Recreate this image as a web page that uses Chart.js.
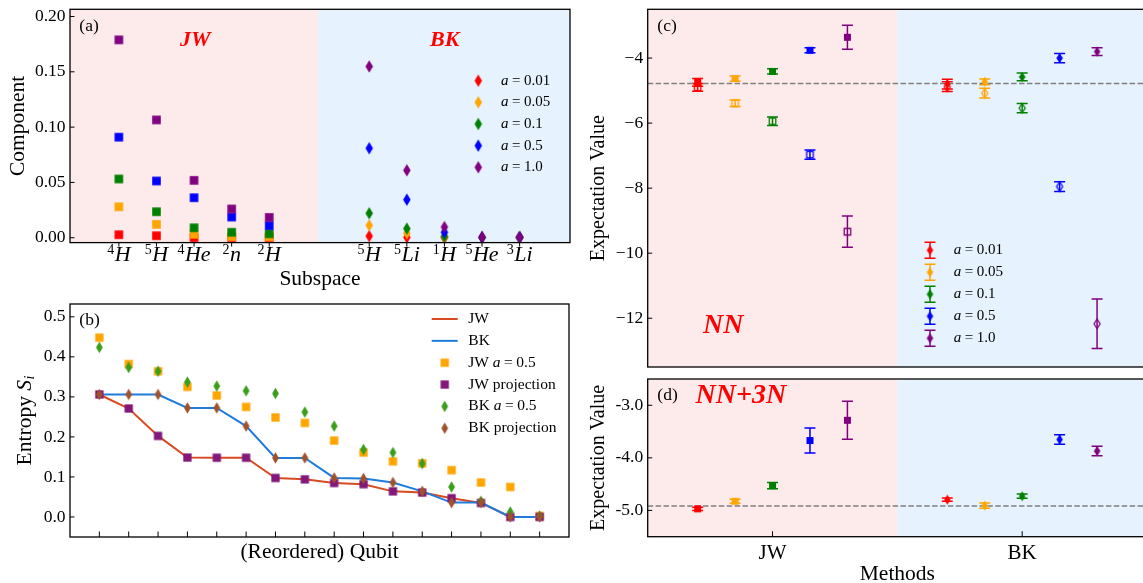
<!DOCTYPE html>
<html>
<head>
<meta charset="utf-8">
<title>Subspace components, entropies and expectation values</title>
<script src="https://cdn.jsdelivr.net/npm/chart.js@4.4.1/dist/chart.umd.min.js"></script>
<style>
  html, body { margin:0; padding:0; background:#fff; overflow:hidden; }
  #page { position:relative; width:1143px; height:583px; overflow:hidden; background:#fff; }
  #page canvas { position:absolute; }
</style>
</head>
<body>
<div id="page">
  <canvas id="chartA" width="580" height="292" style="left:0;top:0"></canvas>
  <canvas id="chartB" width="580" height="291" style="left:0;top:292px"></canvas>
  <canvas id="chartC" width="580" height="373" style="left:580px;top:0"></canvas>
  <canvas id="chartD" width="580" height="210" style="left:580px;top:373px"></canvas>
</div>
<script>
// ===================== DATA =====================
const aLevels = ['0.01', '0.05', '0.1', '0.5', '1.0'];

// ---- panel (a): subspace components ----
const jwSubspaces = ['4H', '5H', '4He', '2n', '2H'];
const bkSubspaces = ['5H', '5Li', '1H', '5He', '3Li'];
const jwCompA001 = [0.0027, 0.0018, 0.0000, 0.0000, 0.0000];
const jwCompA005 = [0.0280, 0.0121, 0.0030, 0.0010, 0.0008];
const jwCompA01  = [0.0531, 0.0235, 0.0090, 0.0049, 0.0036];
const jwCompA05  = [0.0909, 0.0513, 0.0362, 0.0187, 0.0109];
const jwCompA10  = [0.1789, 0.1065, 0.0519, 0.0260, 0.0184];
const bkCompA001 = [0.0015, 0.0003, 0.0000, 0.0000, 0.0000];
const bkCompA005 = [0.0112, 0.0040, 0.0008, 0.0002, 0.0002];
const bkCompA01  = [0.0221, 0.0082, 0.0012, 0.0003, 0.0003];
const bkCompA05  = [0.0809, 0.0344, 0.0049, 0.0004, 0.0004];
const bkCompA10  = [0.1548, 0.0610, 0.0097, 0.0006, 0.0006];
const componentTicks = [0, 0.05, 0.10, 0.15, 0.20];

// ---- panel (b): single-qubit entropy ----
const jwProjection = [0.306, 0.271, 0.2025, 0.1485, 0.148, 0.148, 0.0975, 0.094, 0.085, 0.082, 0.064, 0.061, 0.047, 0.035, 0.0, 0.0];
const bkProjection = [0.306, 0.306, 0.306, 0.2725, 0.2725, 0.227, 0.1475, 0.1475, 0.0975, 0.096, 0.086, 0.064, 0.036, 0.036, 0.0, 0.0];
const jwA05 = [0.448, 0.382, 0.364, 0.325, 0.3035, 0.275, 0.2485, 0.235, 0.191, 0.161, 0.139, 0.134, 0.117, 0.086, 0.075, 0.0025];
const bkA05 = [0.4235, 0.3735, 0.364, 0.337, 0.327, 0.315, 0.3085, 0.262, 0.227, 0.1685, 0.161, 0.1335, 0.075, 0.039, 0.0125, 0.0025];
const entropyTicks = [0, 0.1, 0.2, 0.3, 0.4, 0.5];
const bLegendLabels = ['JW', 'BK', 'JW a=0.5', 'JW projection', 'BK a=0.5', 'BK projection'];

// ---- panel (c): NN expectation values ----
const methods = ['JW', 'BK'];
const nnJwFilled    = [-4.75, -4.63, -4.41, -3.76, -3.36];
const nnJwFilledErr = [0.12, 0.08, 0.08, 0.08, 0.37];
const nnJwOpen      = [-4.90, -5.39, -5.94, -6.97, -9.34];
const nnJwOpenErr   = [0.12, 0.10, 0.13, 0.14, 0.48];
const nnBkFilled    = [-4.80, -4.73, -4.58, -4.00, -3.80];
const nnBkFilledErr = [0.15, 0.09, 0.12, 0.14, 0.12];
const nnBkOpen      = [-4.88, -5.08, -5.54, -7.95, -12.17];
const nnBkOpenErr   = [0.15, 0.15, 0.14, 0.15, 0.76];
const nnReference   = -4.78;
const nnTicks = [-12, -10, -8, -6, -4];

// ---- panel (d): NN+3N expectation values ----
const n3JwFilled = [-4.97, -4.826, -4.53, -3.67, -3.285];
const n3JwErr    = [0.03, 0.04, 0.06, 0.24, 0.36];
const n3BkFilled = [-4.795, -4.91, -4.73, -3.65, -3.87];
const n3BkErr    = [0.03, 0.05, 0.04, 0.09, 0.09];
const n3Reference = -4.914;
const n3Ticks = [-5, -4, -3];

// ===================== STYLE / HELPERS =====================
const SERIF = '"Liberation Serif", "Times New Roman", serif';
Chart.defaults.font.family = SERIF;
Chart.defaults.color = '#000';
const PINK = 'rgb(253,235,235)';
const LBLUE = 'rgb(230,242,253)';
const levelColors = ['#ff0000', '#ffa500', '#008000', '#0000ff', '#800080'];
const levelOffsets = [-0.3, -0.15, 0, 0.15, 0.3];
const CAP = 5.5;

function f(size, style) { return (style ? style + ' ' : '') + size + 'px ' + SERIF; }

function markerImg(shape, color, w, h, filled, lw) {
  lw = lw || 1.2;
  const pad = 2;
  const c = document.createElement('canvas');
  c.width = Math.ceil(w + 2 * pad); c.height = Math.ceil(h + 2 * pad);
  const g = c.getContext('2d');
  const cx = c.width / 2, cy = c.height / 2;
  g.beginPath();
  if (shape === 'square') g.rect(cx - w / 2, cy - h / 2, w, h);
  else { g.moveTo(cx, cy - h / 2); g.lineTo(cx + w / 2, cy); g.lineTo(cx, cy + h / 2); g.lineTo(cx - w / 2, cy); g.closePath(); }
  if (filled) { g.fillStyle = color; g.fill(); }
  else { g.strokeStyle = color; g.lineWidth = lw; g.stroke(); }
  return c;
}

function zeroPad(s) { s.paddingTop = 0; s.paddingBottom = 0; s.paddingLeft = 0; s.paddingRight = 0; }
function fixedTicks(values) { return s => { s.ticks = values.map(v => ({ value: v })); }; }
function pts(xs, ys) { return ys.map((y, i) => ({ x: xs[i], y: y })); }

function drawRuns(ctx, x, y, runs, align) {
  let total = 0;
  runs.forEach(r => { ctx.font = r.font; r.w = ctx.measureText(r.text).width; total += (r.l || 0) + r.w + (r.r || 0); });
  let cx = align === 'center' ? x - total / 2 : x;
  ctx.textAlign = 'left';
  runs.forEach(r => { ctx.font = r.font; cx += (r.l || 0); ctx.fillText(r.text, cx, y + (r.dy || 0)); cx += r.w + (r.r || 0); });
}

// label like "JW a=0.5" -> prefix + italic a + '=' + value
function mathRuns(label, size) {
  const m = label.match(/^(.*?)a=(.*)$/);
  if (!m) return [{ text: label, font: f(size) }];
  const runs = [];
  if (m[1]) runs.push({ text: m[1], font: f(size) });
  runs.push({ text: 'a', font: f(size, 'italic') });
  runs.push({ text: '=', font: f(size), l: 3.5, r: 3.5 });
  runs.push({ text: m[2], font: f(size) });
  return runs;
}

function drawErrorBars(chart) {
  const { ctx, scales: { y } } = chart;
  chart.data.datasets.forEach((ds, i) => {
    if (!ds.errors) return;
    const meta = chart.getDatasetMeta(i);
    ctx.save();
    ctx.strokeStyle = ds.errColor; ctx.lineWidth = 1.5;
    meta.data.forEach((el, j) => {
      const v = ds.data[j].y, e = ds.errors[j];
      const top = y.getPixelForValue(v + e), bot = y.getPixelForValue(v - e);
      ctx.beginPath();
      ctx.moveTo(el.x, top); ctx.lineTo(el.x, bot);
      ctx.moveTo(el.x - CAP, top); ctx.lineTo(el.x + CAP, top);
      ctx.moveTo(el.x - CAP, bot); ctx.lineTo(el.x + CAP, bot);
      ctx.stroke();
    });
    ctx.restore();
  });
}

function drawFrame(chart, o) {
  const { ctx, chartArea: a, scales: { x, y } } = chart;
  ctx.save();
  ctx.strokeStyle = '#000'; ctx.lineWidth = 1;
  ctx.beginPath();
  y.ticks.forEach(t => { const py = y.getPixelForValue(t.value); ctx.moveTo(a.left, py); ctx.lineTo(a.left + o.yTick, py); });
  if (o.xTick) x.ticks.forEach(t => {
    const px = x.getPixelForValue(t.value);
    ctx.moveTo(px, a.bottom); ctx.lineTo(px, o.xOut ? a.bottom + o.xTick : a.bottom - o.xTick);
  });
  ctx.stroke();
  ctx.lineWidth = 1.3;
  ctx.strokeRect(a.left, a.top, a.right - a.left, a.bottom - a.top);
  ctx.restore();
}

function panelPlugin(opts) {
  return {
    id: 'panel',
    beforeDatasetsDraw(chart) {
      const { ctx, chartArea: a, scales: { x } } = chart;
      ctx.save();
      (opts.bands || []).forEach(b => {
        const x0 = Math.max(a.left, x.getPixelForValue(b.from));
        const x1 = Math.min(a.right, x.getPixelForValue(b.to));
        ctx.fillStyle = b.color; ctx.fillRect(x0, a.top, x1 - x0, a.bottom - a.top);
      });
      ctx.restore();
      drawErrorBars(chart);
    },
    afterDraw(chart) {
      drawFrame(chart, opts);
      const ctx = chart.ctx;
      ctx.save();
      ctx.fillStyle = '#000';
      if (opts.draw) opts.draw(chart, ctx);
      ctx.restore();
    }
  };
}

function baseScale(extra) {
  return Object.assign({ type: 'linear', grid: { display: false, drawTicks: false }, border: { display: false } }, extra);
}
const commonOpts = { responsive: false, animation: false, events: [] };
const noPlugins = { legend: { display: false }, tooltip: { enabled: false } };

// ===================== PANEL (a) =====================
const jwX = jwSubspaces.map((_, i) => i + 1);
const bkX = bkSubspaces.map((_, i) => i + 7.66);
const compJW = [jwCompA001, jwCompA005, jwCompA01, jwCompA05, jwCompA10];
const compBK = [bkCompA001, bkCompA005, bkCompA01, bkCompA05, bkCompA10];
const sqA = levelColors.map(c => markerImg('square', c, 8.6, 8.6, true));
const dmA = levelColors.map(c => markerImg('diamond', c, 7.5, 12.5, true));
const dsA = [];
compJW.forEach((vals, i) => dsA.push({ data: pts(jwX, vals), pointStyle: sqA[i], pointRadius: 5, order: 20 - i }));
compBK.forEach((vals, i) => dsA.push({ data: pts(bkX, vals), pointStyle: dmA[i], pointRadius: 5, order: 10 - i }));

new Chart(document.getElementById('chartA'), {
  type: 'scatter',
  data: { datasets: dsA },
  options: Object.assign({}, commonOpts, {
    layout: { padding: { left: 0, right: 10, top: 9.3, bottom: 0 } },
    plugins: noPlugins,
    scales: {
      x: baseScale({ min: -0.3, max: 13.0, ticks: { display: false, autoSkip: false },
        afterBuildTicks: fixedTicks(jwX.concat(bkX)),
        afterFit: s => { s.height = 49.4; zeroPad(s); },
        title: { display: true, text: 'Subspace', color: '#000', font: { size: 21.5, lineHeight: 1 }, padding: { top: 0, bottom: 2 } } }),
      y: baseScale({ min: -0.0044, max: 0.2065,
        ticks: { padding: 4.5, color: '#000', font: { size: 17.5 }, callback: v => Number(v).toFixed(2) },
        afterBuildTicks: fixedTicks(componentTicks),
        afterFit: s => { s.width = 70; zeroPad(s); },
        title: { display: true, text: 'Component', color: '#000', font: { size: 21.5, lineHeight: 1 }, padding: { top: 7.5, bottom: 0 } } })
    }
  }),
  plugins: [panelPlugin({
    bands: [{ from: -0.3, to: 6.3, color: PINK }, { from: 6.3, to: 13.0, color: LBLUE }],
    yTick: 4.5, xTick: 4, xOut: true,
    draw(chart, ctx) {
      const x = chart.scales.x;
      ctx.textBaseline = 'alphabetic';
      const lab = (txt, v) => {
        const m = txt.match(/^(\d+)(.*)$/);
        drawRuns(ctx, x.getPixelForValue(v), 261.3,
          [{ text: m[1], font: f(14), dy: -7 }, { text: m[2], font: f(22, 'italic'), l: 0.5 }], 'center');
      };
      jwSubspaces.forEach((t, i) => lab(t, jwX[i]));
      bkSubspaces.forEach((t, i) => lab(t, bkX[i]));
      ctx.textBaseline = 'middle';
      ctx.fillStyle = '#000';
      drawRuns(ctx, 79.3, 26.5, [{ text: '(a)', font: f(17.5) }]);
      ctx.fillStyle = '#ff0000';
      drawRuns(ctx, 195.3, 40.5, [{ text: 'JW', font: f(22, 'bold italic') }], 'center');
      drawRuns(ctx, 444.7, 40.5, [{ text: 'BK', font: f(22, 'bold italic') }], 'center');
      ctx.fillStyle = '#000';
      aLevels.forEach((lv, i) => {
        const yy = 80.7 + 21.65 * i;
        const img = dmA[i];
        ctx.drawImage(img, 478.3 - img.width / 2, yy - img.height / 2);
        drawRuns(ctx, 501, yy, mathRuns('a=' + lv, 15));
      });
    }
  })]
});

// ===================== PANEL (b) =====================
const qubits = jwProjection.map((_, i) => i);
const JWLINE = '#d84a22', BKLINE = '#1f7bdc';
const sqOrange = markerImg('square', '#ffa500', 8.3, 8.3, true);
const sqPurple = markerImg('square', '#81187a', 8.3, 8.3, true);
const dmGreen = markerImg('diamond', '#3a9e1c', 6.8, 11.5, true);
const dmBrown = markerImg('diamond', '#a0522d', 6.8, 11.5, true);
const dsB = [
  { data: pts(qubits, jwProjection), showLine: true, borderColor: JWLINE, borderWidth: 2, pointRadius: 0, order: 6 },
  { data: pts(qubits, bkProjection), showLine: true, borderColor: BKLINE, borderWidth: 2, pointRadius: 0, order: 5 },
  { data: pts(qubits, jwA05), pointStyle: sqOrange, pointRadius: 5, order: 4 },
  { data: pts(qubits, jwProjection), pointStyle: sqPurple, pointRadius: 5, order: 3 },
  { data: pts(qubits, bkA05), pointStyle: dmGreen, pointRadius: 5, order: 2 },
  { data: pts(qubits, bkProjection), pointStyle: dmBrown, pointRadius: 5, order: 1 }
];
const bLegendSymbols = [
  { line: JWLINE }, { line: BKLINE }, { img: sqOrange }, { img: sqPurple }, { img: dmGreen }, { img: dmBrown }
];

new Chart(document.getElementById('chartB'), {
  type: 'scatter',
  data: { datasets: dsB },
  options: Object.assign({}, commonOpts, {
    layout: { padding: { left: 0, right: 11, top: 12, bottom: 0 } },
    plugins: noPlugins,
    scales: {
      x: baseScale({ min: -1, max: 16, ticks: { display: false, autoSkip: false },
        afterBuildTicks: fixedTicks(qubits),
        afterFit: s => { s.height = 46; zeroPad(s); },
        title: { display: true, text: '(Reordered) Qubit', color: '#000', font: { size: 21.5, lineHeight: 1 }, padding: { top: 0, bottom: 20 } } }),
      y: baseScale({ min: -0.05, max: 0.532,
        ticks: { padding: 4.5, color: '#000', font: { size: 17.5 }, callback: v => Number(v).toFixed(1) },
        afterBuildTicks: fixedTicks(entropyTicks),
        afterFit: s => { s.width = 70; zeroPad(s); } })
    }
  }),
  plugins: [panelPlugin({
    yTick: 4.5, xTick: 5.5, xOut: false,
    draw(chart, ctx) {
      const a = chart.chartArea;
      ctx.textBaseline = 'middle';
      drawRuns(ctx, 79.3, 28, [{ text: '(b)', font: f(17.5) }]);
      // y-axis title: Entropy S_i (centred on the plot area)
      ctx.save();
      ctx.translate(25.5, (a.top + a.bottom) / 2);
      ctx.rotate(-Math.PI / 2);
      drawRuns(ctx, 0, 0, [{ text: 'Entropy ', font: f(21.5) }, { text: 'S', font: f(21.5, 'italic') }, { text: 'i', font: f(14, 'italic'), dy: 4.5, l: 0.5 }], 'center');
      ctx.restore();
      bLegendLabels.forEach((lb, i) => {
        const yy = 27 + 21.85 * i;
        const s = bLegendSymbols[i];
        if (s.line) {
          ctx.save(); ctx.strokeStyle = s.line; ctx.lineWidth = 2;
          ctx.beginPath(); ctx.moveTo(431.7, yy); ctx.lineTo(457.7, yy); ctx.stroke(); ctx.restore();
        } else {
          ctx.drawImage(s.img, 444.7 - s.img.width / 2, yy - s.img.height / 2);
        }
        drawRuns(ctx, 468.3, yy, mathRuns(lb, 15.5));
      });
    }
  })]
});

// ===================== PANELS (c) & (d) =====================
const sqFilled = levelColors.map(c => markerImg('square', c, 7, 7, true));
const sqOpen = levelColors.map(c => markerImg('square', c, 6.5, 6.5, false, 1.3));
const dmFilled = levelColors.map(c => markerImg('diamond', c, 6.5, 10, true));
const dmOpen = levelColors.map(c => markerImg('diamond', c, 6, 9.5, false, 1.3));

function errDatasets(series) {
  const out = [];
  series.forEach(s => {
    s.values.forEach((v, i) => {
      out.push({
        data: [{ x: s.method + levelOffsets[i], y: v }],
        errors: [s.errors[i]],
        errColor: levelColors[i],
        pointStyle: s.imgs[i],
        pointRadius: 5,
        order: 2
      });
    });
  });
  return out;
}
function refLine(v) {
  return { data: [{ x: -0.5, y: v }, { x: 1.5, y: v }], showLine: true, borderColor: '#808080',
    borderWidth: 1.5, borderDash: [5.5, 2.4], pointRadius: 0, order: 10 };
}

const dsC = errDatasets([
  { method: 0, values: nnJwFilled, errors: nnJwFilledErr, imgs: sqFilled },
  { method: 0, values: nnJwOpen, errors: nnJwOpenErr, imgs: sqOpen },
  { method: 1, values: nnBkFilled, errors: nnBkFilledErr, imgs: dmFilled },
  { method: 1, values: nnBkOpen, errors: nnBkOpenErr, imgs: dmOpen }
]).concat([refLine(nnReference)]);

new Chart(document.getElementById('chartC'), {
  type: 'scatter',
  data: { datasets: dsC },
  options: Object.assign({}, commonOpts, {
    layout: { padding: { left: 0, right: 13, top: 9.3, bottom: 0 } },
    plugins: noPlugins,
    scales: {
      x: baseScale({ min: -0.5, max: 1.5, ticks: { display: false, autoSkip: false },
        afterBuildTicks: fixedTicks([0, 1]),
        afterFit: s => { s.height = 3; zeroPad(s); } }),
      y: baseScale({ min: -13.5, max: -2.5,
        ticks: { padding: 4.5, color: '#000', font: { size: 17.5 }, callback: v => '\u2212' + Math.abs(v) },
        afterBuildTicks: fixedTicks(nnTicks),
        afterFit: s => { s.width = 67.7; zeroPad(s); },
        title: { display: true, text: 'Expectation Value', color: '#000', font: { size: 20, lineHeight: 1 }, padding: { top: 9, bottom: 0 } } })
    }
  }),
  plugins: [panelPlugin({
    bands: [{ from: -0.5, to: 0.5, color: PINK }, { from: 0.5, to: 1.5, color: LBLUE }],
    yTick: 4.5, xTick: 0,
    draw(chart, ctx) {
      ctx.textBaseline = 'middle';
      drawRuns(ctx, 77.3, 26, [{ text: '(c)', font: f(17.5) }]);
      ctx.fillStyle = '#ff0000';
      drawRuns(ctx, 143.3, 326, [{ text: 'NN', font: f(28, 'bold italic') }], 'center');
      ctx.fillStyle = '#000';
      aLevels.forEach((lv, i) => {
        const yy = 250.2 + 22 * i, xx = 350;
        ctx.save();
        ctx.strokeStyle = levelColors[i]; ctx.lineWidth = 1.5;
        ctx.beginPath();
        ctx.moveTo(xx, yy - 8); ctx.lineTo(xx, yy + 8);
        ctx.moveTo(xx - CAP, yy - 8); ctx.lineTo(xx + CAP, yy - 8);
        ctx.moveTo(xx - CAP, yy + 8); ctx.lineTo(xx + CAP, yy + 8);
        ctx.stroke(); ctx.restore();
        const img = dmFilled[i];
        ctx.drawImage(img, xx - img.width / 2, yy - img.height / 2);
        drawRuns(ctx, 373.7, yy, mathRuns('a=' + lv, 15));
      });
    }
  })]
});

const dsD = errDatasets([
  { method: 0, values: n3JwFilled, errors: n3JwErr, imgs: sqFilled },
  { method: 1, values: n3BkFilled, errors: n3BkErr, imgs: dmFilled }
]).concat([refLine(n3Reference)]);

new Chart(document.getElementById('chartD'), {
  type: 'scatter',
  data: { datasets: dsD },
  options: Object.assign({}, commonOpts, {
    layout: { padding: { left: 0, right: 13, top: 3, bottom: 0 } },
    plugins: noPlugins,
    scales: {
      x: baseScale({ min: -0.5, max: 1.5,
        ticks: { display: true, autoSkip: false, padding: 4, color: '#000', font: { size: 21 }, maxRotation: 0, callback: v => methods[v] },
        afterBuildTicks: fixedTicks([0, 1]),
        afterFit: s => { s.height = 46.3; zeroPad(s); },
        title: { display: true, text: 'Methods', color: '#000', font: { size: 21.5, lineHeight: 0.8 }, padding: { top: 0, bottom: 0 } } }),
      y: baseScale({ min: -5.5, max: -2.5,
        ticks: { padding: 4.5, color: '#000', font: { size: 17.5 }, callback: v => Number(v).toFixed(1) },
        afterBuildTicks: fixedTicks(n3Ticks),
        afterFit: s => { s.width = 67.7; zeroPad(s); },
        title: { display: true, text: 'Expectation Value', color: '#000', font: { size: 20, lineHeight: 1 }, padding: { top: 9, bottom: 0 } } })
    }
  }),
  plugins: [panelPlugin({
    bands: [{ from: -0.5, to: 0.5, color: PINK }, { from: 0.5, to: 1.5, color: LBLUE }],
    yTick: 4.5, xTick: 5.5, xOut: false,
    draw(chart, ctx) {
      ctx.textBaseline = 'middle';
      drawRuns(ctx, 77.3, 22, [{ text: '(d)', font: f(17.5) }]);
      ctx.fillStyle = '#ff0000';
      drawRuns(ctx, 160.8, 23, [{ text: 'NN+3N', font: f(28, 'bold italic') }], 'center');
    }
  })]
});
</script>
</body>
</html>
